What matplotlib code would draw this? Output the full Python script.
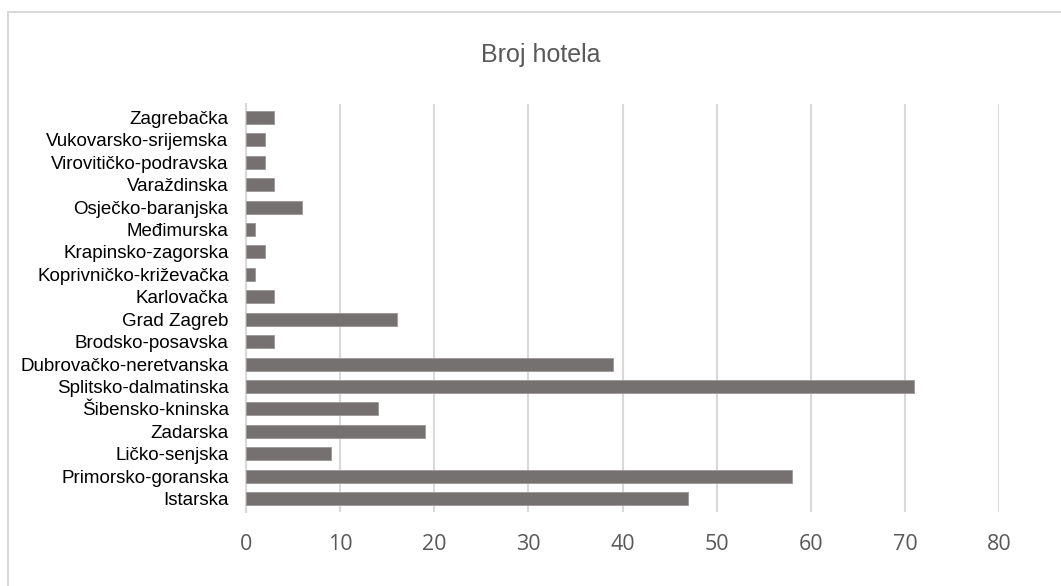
import matplotlib.pyplot as plt
from matplotlib.patches import Rectangle

# Counties, bottom to top as drawn
zupanije = [
    "Istarska", "Primorsko-goranska", "Ličko-senjska", "Zadarska",
    "Šibensko-kninska", "Splitsko-dalmatinska", "Dubrovačko-neretvanska",
    "Brodsko-posavska", "Grad Zagreb", "Karlovačka", "Koprivničko-križevačka",
    "Krapinsko-zagorska", "Međimurska", "Osječko-baranjska", "Varaždinska",
    "Virovitičko-podravska", "Vukovarsko-srijemska", "Zagrebačka",
]
broj_hotela = [47, 58, 9, 19, 14, 71, 39, 3, 16, 3, 1, 2, 1, 6, 3, 2, 2, 3]
x_ticks = [0, 10, 20, 30, 40, 50, 60, 70, 80]

W, H = 1061, 586
fig = plt.figure(figsize=(W / 100, H / 100), dpi=100)
# chart frame, cut off at the right and bottom like the screenshot
fig.patches.append(Rectangle((8 / W, -0.05), 1.2, 1 - 12 / H + 0.05,
                             transform=fig.transFigure, fill=False,
                             edgecolor="#d9d9d9", linewidth=1.5))

ax = fig.add_axes([246 / W, 1 - 512 / H, (999 - 246) / W, (512 - 104) / H])
ax.barh(range(len(zupanije)), broj_hotela, height=0.58, color="#767171",
        edgecolor="#9a9696", linewidth=0.6, zorder=3)

ax.set_xlim(0, 80)
ax.set_ylim(-0.6, len(zupanije) - 0.4)
ax.set_xticks(x_ticks)
ax.set_yticks(range(len(zupanije)))
ax.set_yticklabels(zupanije, family="Liberation Sans", fontsize=13.5, color="black")
ax.set_xticklabels([str(t) for t in x_ticks], family="Open Sans", fontsize=15.5,
                   color="#595959")
ax.tick_params(axis="x", length=0, pad=16)
ax.tick_params(axis="y", length=0, pad=12.5)
ax.grid(axis="x", color="#d9d9d9", linewidth=1.5, zorder=0)
for s in ["top", "right", "bottom"]:
    ax.spines[s].set_visible(False)
ax.spines["left"].set_color("#d9d9d9")
ax.spines["left"].set_linewidth(1.5)

fig.text(541 / W, 1 - 55 / H, "Broj hotela", ha="center", va="center",
         family="Liberation Sans", fontsize=18, color="#595959")

fig.savefig("out.png", dpi=100)
